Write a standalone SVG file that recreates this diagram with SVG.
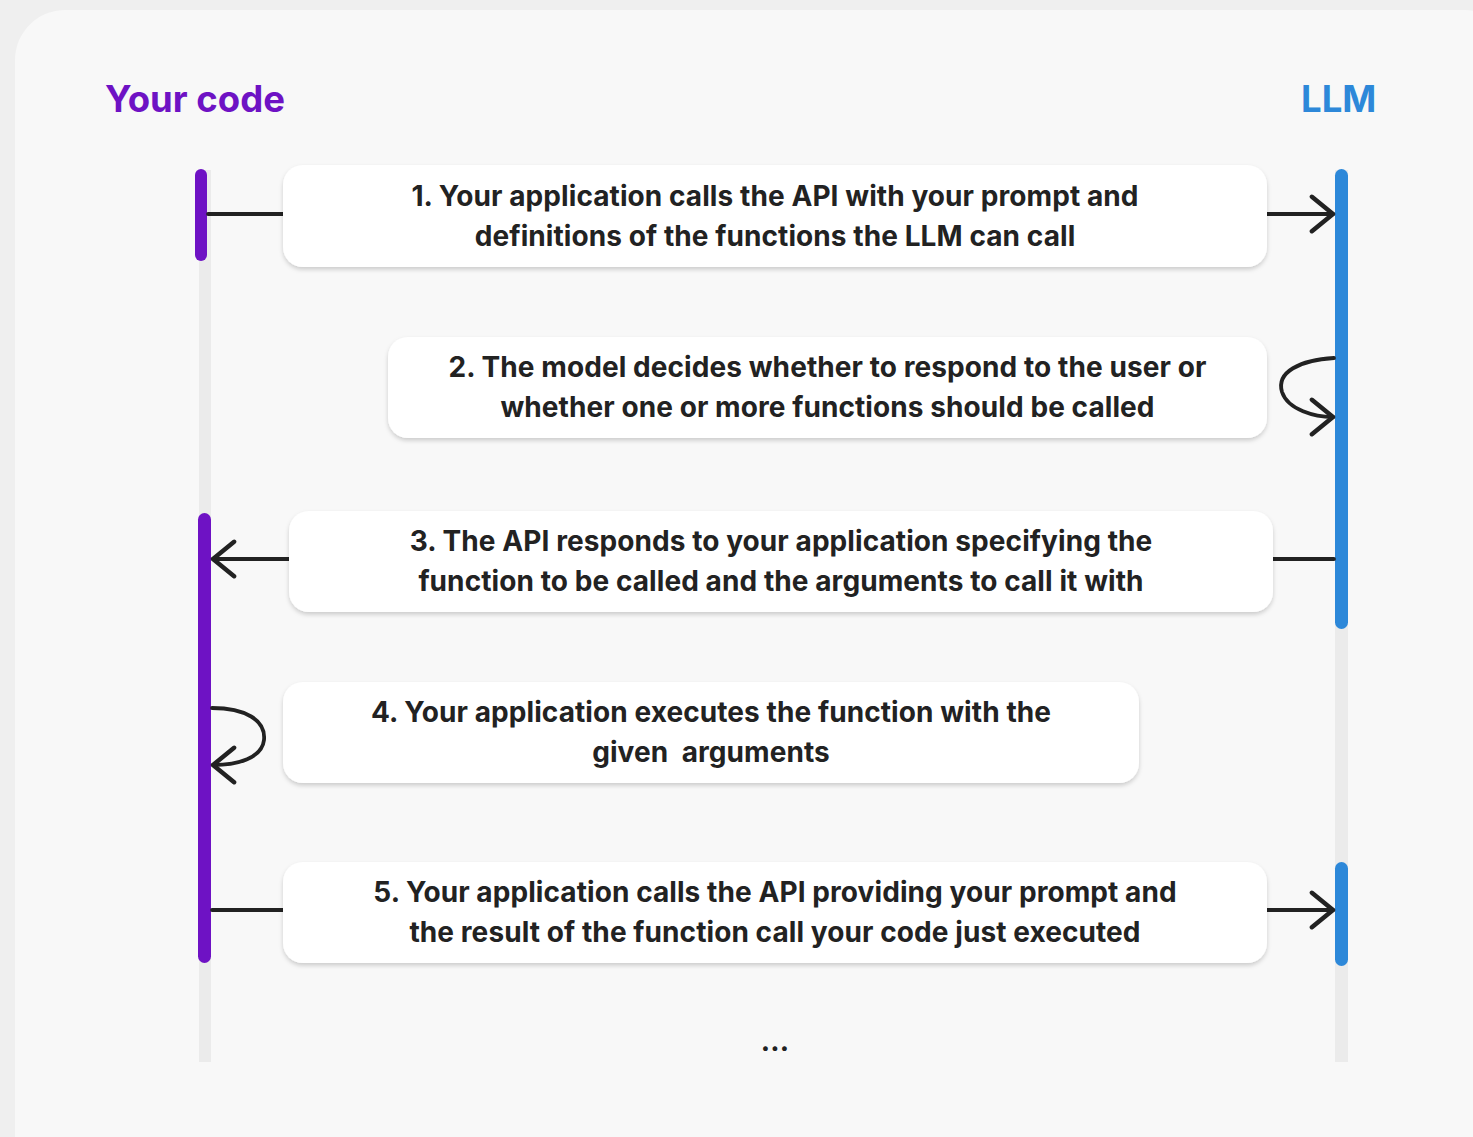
<svg xmlns="http://www.w3.org/2000/svg" width="1473" height="1137" viewBox="0 0 1473 1137">
  <style>
    .title { font-family: Inter, "Liberation Sans", sans-serif; font-weight: 700; font-size: 36.5px; }
    .label { font-family: Inter, "Liberation Sans", sans-serif; font-weight: 700; font-size: 28px; letter-spacing: 0.08px; fill: #222222; text-anchor: middle; }
    .box { fill: #ffffff; filter: url(#shadow); }
    .track { fill: #ebebeb; }
    .code { fill: #6e12c4; }
    .llm { fill: #2d88d9; }
    .wire { fill: none; stroke: #222222; stroke-width: 3.8; stroke-linecap: round; }
  </style>
  <defs>
    <filter id="shadow" x="-5%" y="-20%" width="110%" height="150%">
      <feDropShadow dx="0" dy="2.5" stdDeviation="2" flood-color="#000000" flood-opacity="0.18"/>
    </filter>
    <marker id="chev" markerUnits="userSpaceOnUse" markerWidth="30" markerHeight="40" viewBox="-22 -18 26 36" refX="0" refY="0" orient="auto">
      <path d="M-19,-15.5 L0,0 L-19,15.5" fill="none" stroke="#222222" stroke-width="4" stroke-linecap="round" stroke-linejoin="round"/>
    </marker>
  </defs>

  <!-- page and card -->
  <rect x="0" y="0" width="1473" height="1137" fill="#efefef"/>
  <rect x="15" y="10" width="1500" height="1180" rx="50" fill="#f8f8f8"/>

  <!-- lane headers -->
  <text class="title code" x="105" y="112">Your code</text>
  <text class="title llm" x="1301" y="112">LLM</text>

  <!-- lifelines -->
  <g id="lifeline-code">
    <rect class="track" x="199" y="170" width="12" height="892"/>
    <rect class="code" x="195" y="169" width="12" height="92" rx="6"/>
    <rect class="code" x="198" y="513" width="13" height="450" rx="6.5"/>
  </g>
  <g id="lifeline-llm">
    <rect class="track" x="1335" y="170" width="13" height="892"/>
    <rect class="llm" x="1335" y="169" width="13" height="460" rx="6.5"/>
    <rect class="llm" x="1335" y="862" width="13" height="104" rx="6.5"/>
  </g>

  <!-- connectors -->
  <g id="connectors">
    <line class="wire" x1="208" y1="214" x2="283" y2="214"/>
    <line class="wire" x1="1267" y1="214" x2="1333" y2="214" marker-end="url(#chev)"/>
    <path class="wire" d="M1334,358 C1300,360 1276,372 1282,392 C1288,410 1315,417 1333,417" marker-end="url(#chev)"/>
    <line class="wire" x1="1273" y1="559" x2="1334" y2="559"/>
    <line class="wire" x1="289" y1="559" x2="213" y2="559" marker-end="url(#chev)"/>
    <path class="wire" d="M212,708 C245,708 266,720 264,740 C262,758 238,765 213,765" marker-end="url(#chev)"/>
    <line class="wire" x1="212" y1="910" x2="283" y2="910"/>
    <line class="wire" x1="1267" y1="910" x2="1333" y2="910" marker-end="url(#chev)"/>
  </g>

  <!-- steps -->
  <g id="step1">
    <rect class="box" x="283" y="165" width="984" height="102" rx="20"/>
    <text class="label" x="775" y="206">1. Your application calls the API with your prompt and</text>
    <text class="label" x="775" y="246">definitions of the functions the LLM can call</text>
  </g>
  <g id="step2">
    <rect class="box" x="388" y="337" width="879" height="101" rx="20"/>
    <text class="label" x="827.5" y="377">2. The model decides whether to respond to the user or</text>
    <text class="label" x="827.5" y="417">whether one or more functions should be called</text>
  </g>
  <g id="step3">
    <rect class="box" x="289" y="511" width="984" height="101" rx="20"/>
    <text class="label" x="781" y="551">3. The API responds to your application specifying the</text>
    <text class="label" x="781" y="591">function to be called and the arguments to call it with</text>
  </g>
  <g id="step4">
    <rect class="box" x="283" y="682" width="856" height="101" rx="20"/>
    <text class="label" x="711" y="722">4. Your application executes the function with the</text>
    <text class="label" x="711" y="762" xml:space="preserve">given  arguments</text>
  </g>
  <g id="step5">
    <rect class="box" x="283" y="862" width="984" height="101" rx="20"/>
    <text class="label" x="775" y="902">5. Your application calls the API providing your prompt and</text>
    <text class="label" x="775" y="942">the result of the function call your code just executed</text>
  </g>

  <text class="label" x="775" y="1051">...</text>
</svg>
